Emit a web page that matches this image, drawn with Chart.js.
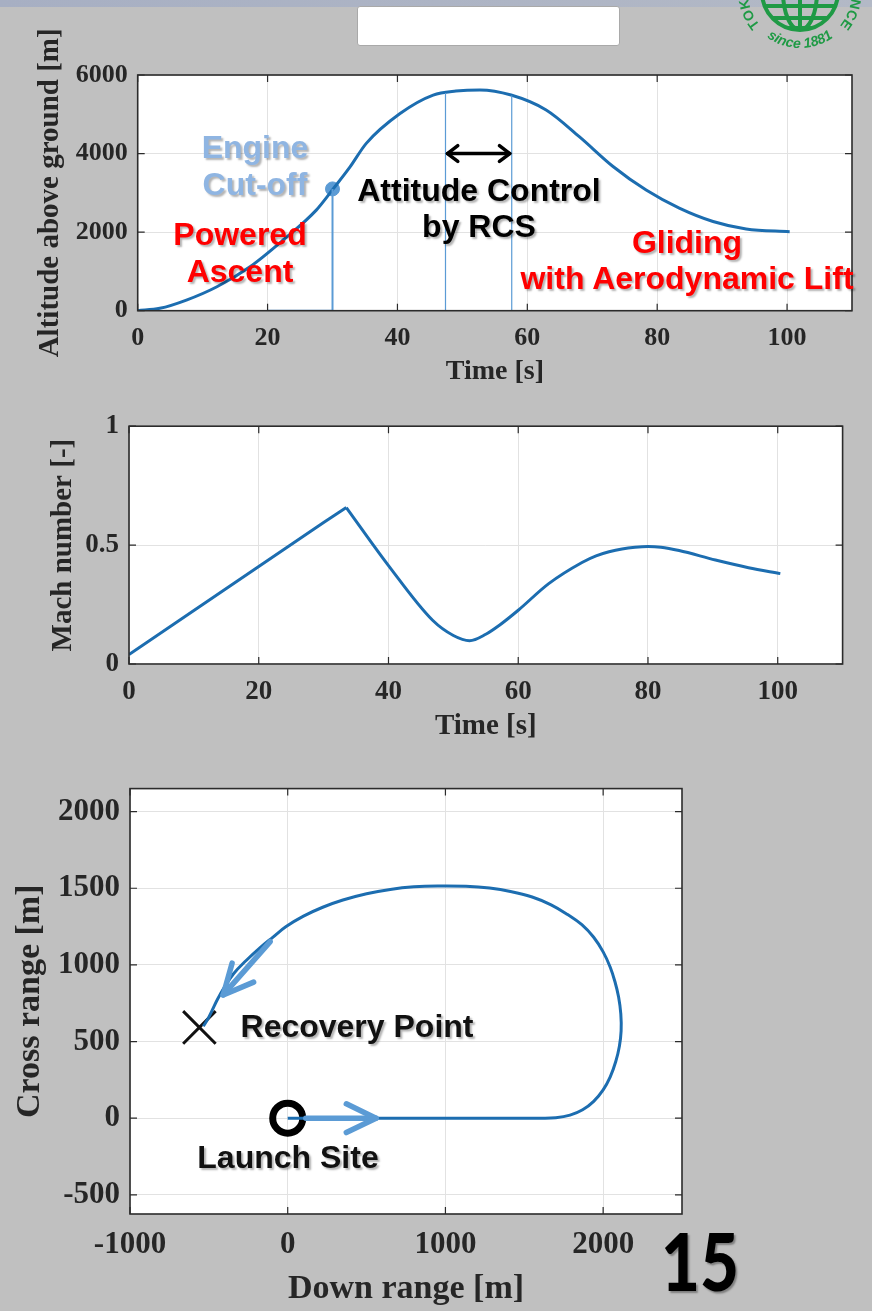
<!DOCTYPE html>
<html><head><meta charset="utf-8">
<script src="https://cdn.jsdelivr.net/npm/chart.js@4/dist/chart.umd.min.js"></script>
<style>
html,body{margin:0;padding:0;background:#c0c0c0;width:872px;height:1311px;overflow:hidden;position:relative;font-family:"Liberation Sans",Arial,sans-serif;}
canvas{position:absolute;left:0;}
#c1{top:0}
#c2{top:400px}
#c3{top:760px}
.note{position:absolute;font-weight:bold;font-size:32px;text-align:center;white-space:nowrap;text-shadow:2px 2px 2px rgba(0,0,0,0.3);transform:translate(-50%,-50%);z-index:5;}
#strip{position:absolute;left:0;top:0;width:872px;height:7px;background:linear-gradient(90deg,#a7afc3,#b3b9c6);z-index:3}
#box{position:absolute;left:357px;top:6px;width:261px;height:38px;background:#fff;border:1px solid #a9a9a9;border-radius:3px;z-index:4}
#logo{position:absolute;left:730px;top:-78px;width:140px;height:140px;z-index:4}
#page{position:absolute;left:661px;top:1220px;font-family:Lato,"Liberation Sans",sans-serif;font-weight:900;font-size:80px;line-height:1;color:#000;transform:scaleX(0.84);transform-origin:left top;text-shadow:2px 2px 2px rgba(0,0,0,0.35);z-index:5}
</style>
</head><body>
<div id="strip"></div>
<div id="box"></div>
<svg id="logo" viewBox="0 0 140 140" xmlns="http://www.w3.org/2000/svg">
  <defs>
    <path id="topArc" d="M 30.2 103.4 A 52 52 0 1 1 109.8 103.4"/>
    <path id="botArc" d="M 14 70 A 56 56 0 0 0 126 70"/>
    <clipPath id="gc"><circle cx="70" cy="70" r="38"/></clipPath>
  </defs>
  <g fill="none" stroke="#1f9a45" stroke-width="4">
    <circle cx="70" cy="70" r="38"/>
    <g clip-path="url(#gc)">
      <line x1="25" y1="84" x2="115" y2="84"/>
      <line x1="25" y1="96" x2="115" y2="96"/>
      <line x1="25" y1="106" x2="115" y2="106"/>
      <ellipse cx="70" cy="70" rx="17" ry="38"/>
      <line x1="70" y1="25" x2="70" y2="115"/>
    </g>
  </g>
  <text font-family="Liberation Sans" font-weight="bold" font-size="14" fill="#1f9a45"><textPath href="#topArc" textLength="236">TOKYO UNIVERSITY OF SCIENCE</textPath></text>
  <text font-family="Liberation Sans" font-weight="bold" font-style="italic" font-size="14" fill="#1f9a45"><textPath href="#botArc" startOffset="50%" text-anchor="middle">since 1881</textPath></text>
</svg>

<canvas id="c1" width="872" height="400"></canvas>
<canvas id="c2" width="872" height="360"></canvas>
<canvas id="c3" width="872" height="551"></canvas>

<div class="note" style="left:255px;top:166px;color:#8fb5e2;line-height:37px">Engine<br>Cut-off</div>
<div class="note" style="left:240px;top:253px;color:#ff0000;line-height:37px">Powered<br>Ascent</div>
<div class="note" style="left:479px;top:208px;color:#000;line-height:36px">Attitude Control<br>by RCS</div>
<div class="note" style="left:687px;top:260px;color:#ff0000;line-height:36px">Gliding<br>with Aerodynamic Lift</div>
<div class="note" style="left:357px;top:1026px;color:#111;line-height:36px">Recovery Point</div>
<div class="note" style="left:288px;top:1157px;color:#111;line-height:36px">Launch Site</div>
<div id="page">15</div>

<script>
// ---------- data ----------
const timeTicks = [0, 20, 40, 60, 80, 100];
const altTicks = [0, 2000, 4000, 6000];
const machTicks = [0, 0.5, 1];
const downTicks = [-1000, 0, 1000, 2000];
const crossTicks = [-500, 0, 500, 1000, 1500, 2000];

const altTime  = [0, 3.4, 7.5, 12.2, 17.3, 22.4, 27.5, 30.1, 32.7, 35.2, 40.4, 45.5, 49, 52.7, 57.5, 62.9, 68, 73.2, 78.3, 83.4, 88.6, 93.7, 100.4];
const altValue = [0, 60, 270, 610, 1120, 1800, 2560, 3100, 3660, 4260, 5020, 5490, 5590, 5620, 5490, 5110, 4430, 3670, 3070, 2610, 2270, 2080, 2010];

const cutoffTime = 30;
const cutoffAlt = 3100;
const cutoffBaseStart = 20;
const rcsStart = 47.4, rcsStartAlt = 5540;
const rcsEnd = 57.6, rcsEndAlt = 5480;
const rcsArrowAlt = 4000;

const machPoweredTime  = [0, 10, 20, 30, 33.5];
const machPoweredValue = [0.04, 0.225, 0.41, 0.595, 0.658];
const machCoastTime  = [33.5, 40, 46.8, 50, 52.5, 55, 57.1, 60, 64.7, 69.9, 72, 74, 76, 78, 80, 82, 84.8, 90.4, 95.5, 100.4];
const machCoastValue = [0.658, 0.414, 0.184, 0.12, 0.098, 0.125, 0.163, 0.226, 0.338, 0.428, 0.455, 0.472, 0.484, 0.491, 0.494, 0.491, 0.477, 0.437, 0.405, 0.38];

const downRange  = [0, 500, 1000, 1400, 1600, 1700, 1790, 1870, 1940, 2000, 2045, 2080, 2103, 2114, 2112, 2098, 2075, 2045, 2000, 1940, 1865, 1775, 1670, 1550, 1420, 1280, 1130, 950, 800, 650, 500, 350, 222, 100, -10, -95, -180, -265, -342, -400, -445, -480, -510, -535];
const crossRange = [0, 0, 0, 0, 0, 3, 20, 55, 110, 185, 270, 370, 470, 570, 680, 790, 890, 985, 1085, 1180, 1262, 1328, 1392, 1443, 1477, 1501, 1513, 1515, 1509, 1492, 1464, 1423, 1376, 1318, 1250, 1180, 1108, 1027, 944, 857, 776, 702, 640, 600];
const launchSite = [0, 0];
const recoveryPoint = [-560, 592];
const arrowOut  = {from: [115, 0], to: [560, 0]};
const arrowBack = {from: [-111, 1152], to: [-409, 804]};

// ---------- helpers ----------
const SERIF = '"Liberation Serif", "Times New Roman", serif';
const TXT = '#262626';
const GRID = '#e2e2e2';
const LINE = '#1c6db0';
const LIGHT = '#5b9bd5';

function pts(xs, ys){ return xs.map((x,i)=>({x:x, y:ys[i]})); }

const framePlugin = {
  id: 'frame',
  beforeDraw(chart){
    const {ctx, chartArea:a} = chart;
    ctx.save(); ctx.fillStyle = '#fff'; ctx.fillRect(a.left, a.top, a.width, a.height); ctx.restore();
  },
  afterDraw(chart){
    const {ctx, chartArea:a} = chart;
    const xs = chart.scales.x, ys = chart.scales.y;
    ctx.save();
    ctx.strokeStyle = '#2b2b2b'; ctx.lineWidth = 1.6;
    ctx.strokeRect(a.left, a.top, a.width, a.height);
    ctx.lineWidth = 1.2;
    const L = 7;
    ctx.beginPath();
    xs.ticks.forEach(t=>{ const p = xs.getPixelForValue(t.value);
      ctx.moveTo(p, a.bottom); ctx.lineTo(p, a.bottom - L);
      ctx.moveTo(p, a.top); ctx.lineTo(p, a.top + L); });
    ys.ticks.forEach(t=>{ const p = ys.getPixelForValue(t.value);
      ctx.moveTo(a.left, p); ctx.lineTo(a.left + L, p);
      ctx.moveTo(a.right, p); ctx.lineTo(a.right - L, p); });
    ctx.stroke();
    ctx.restore();
  }
};

const arrowPlugin = {
  id: 'arrows',
  afterDatasetsDraw(chart, args, opts){
    const items = (opts && opts.items) || [];
    if (!items.length) return;
    const {ctx} = chart; const xs = chart.scales.x, ys = chart.scales.y;
    ctx.save();
    ctx.strokeStyle = opts.color; ctx.lineWidth = opts.width; ctx.lineCap = 'round'; ctx.lineJoin = 'round';
    for (const it of items){
      const x1 = xs.getPixelForValue(it.from[0]), y1 = ys.getPixelForValue(it.from[1]);
      const x2 = xs.getPixelForValue(it.to[0]),   y2 = ys.getPixelForValue(it.to[1]);
      ctx.beginPath(); ctx.moveTo(x1, y1); ctx.lineTo(x2, y2); ctx.stroke();
      const heads = it.both ? [[x2,y2,x1,y1],[x1,y1,x2,y2]] : [[x2,y2,x1,y1]];
      for (const [tx,ty,sx,sy] of heads){
        const ang = Math.atan2(ty - sy, tx - sx);
        ctx.beginPath();
        ctx.moveTo(tx - opts.head*Math.cos(ang - opts.spread), ty - opts.head*Math.sin(ang - opts.spread));
        ctx.lineTo(tx, ty);
        ctx.lineTo(tx - opts.head*Math.cos(ang + opts.spread), ty - opts.head*Math.sin(ang + opts.spread));
        ctx.stroke();
      }
    }
    ctx.restore();
  }
};

function axis(cfg){
  return {
    type: 'linear',
    min: cfg.min, max: cfg.max,
    afterBuildTicks: (s)=>{ s.ticks = cfg.ticks.map(v=>({value:v})); },
    afterFit: (s)=>{ if (cfg.width != null) s.width = cfg.width; if (cfg.height != null) s.height = cfg.height; },
    grid: {color: GRID, lineWidth: 1, drawTicks: false},
    border: {display: false},
    ticks: {
      font: {family: SERIF, size: cfg.tickSize, weight: 'bold'},
      color: TXT, padding: cfg.tickPad, maxRotation: 0, autoSkip: false,
      callback: (v)=>String(v)
    },
    title: {
      display: true, text: cfg.title, color: TXT,
      font: {family: SERIF, size: cfg.titleSize, weight: 'bold'},
      padding: cfg.titlePad
    }
  };
}

Chart.defaults.animation = false;
Chart.defaults.responsive = false;
Chart.defaults.devicePixelRatio = 1;

// ---------- chart 1: altitude ----------
new Chart(document.getElementById('c1'), {
  type: 'scatter',
  data: { datasets: [
    {data: [{x:cutoffBaseStart,y:0},{x:cutoffTime,y:0},{x:cutoffTime,y:cutoffAlt}], showLine:true, borderColor:LIGHT, borderWidth:2, pointRadius:0, tension:0},
    {data: [{x:rcsStart,y:0},{x:rcsStart,y:rcsStartAlt}], showLine:true, borderColor:LIGHT, borderWidth:1.2, pointRadius:0},
    {data: [{x:rcsEnd,y:0},{x:rcsEnd,y:rcsEndAlt}], showLine:true, borderColor:LIGHT, borderWidth:1.2, pointRadius:0},
    {data: pts(altTime, altValue), showLine:true, borderColor:LINE, borderWidth:3, pointRadius:0, cubicInterpolationMode:'monotone'},
    {data: [{x:cutoffTime,y:cutoffAlt}], pointRadius:7, pointBackgroundColor:LIGHT, pointBorderColor:LIGHT, showLine:false}
  ]},
  options: {
    layout: {padding: {left:0, right:20, top:75, bottom:0}},
    plugins: {legend:{display:false}, tooltip:{enabled:false},
      arrows: {items:[{from:[rcsStart+0.3, rcsArrowAlt], to:[rcsEnd-0.3, rcsArrowAlt], both:true}], color:'#000', width:3.5, head:13, spread:0.65}},
    scales: {
      x: axis({min:0, max:110, ticks:timeTicks, height:89.3, tickSize:26, tickPad:11.7, title:'Time [s]', titleSize:28, titlePad:{top:0,bottom:11}}),
      y: axis({min:0, max:6000, ticks:altTicks, width:137.7, tickSize:26, tickPad:10, title:'Altitude above ground [m]', titleSize:29, titlePad:{top:33.6,bottom:0}})
    }
  },
  plugins: [framePlugin, arrowPlugin]
});

// ---------- chart 2: mach ----------
new Chart(document.getElementById('c2'), {
  type: 'scatter',
  data: { datasets: [
    {data: pts(machPoweredTime, machPoweredValue), showLine:true, borderColor:LINE, borderWidth:3, pointRadius:0, tension:0},
    {data: pts(machCoastTime, machCoastValue), showLine:true, borderColor:LINE, borderWidth:3, pointRadius:0, cubicInterpolationMode:'monotone'}
  ]},
  options: {
    layout: {padding: {left:0, right:29.4, top:25, bottom:0}},
    plugins: {legend:{display:false}, tooltip:{enabled:false}},
    scales: {
      x: axis({min:0, max:110, ticks:timeTicks, height:96, tickSize:27, tickPad:11.5, title:'Time [s]', titleSize:29, titlePad:{top:0,bottom:15.9}}),
      y: axis({min:0, max:1, ticks:machTicks, width:129, tickSize:27, tickPad:10, title:'Mach number [-]', titleSize:29, titlePad:{top:46.6,bottom:0}})
    }
  },
  plugins: [framePlugin]
});

// ---------- chart 3: ground track ----------
new Chart(document.getElementById('c3'), {
  type: 'scatter',
  data: { datasets: [
    {data: pts(downRange, crossRange), showLine:true, borderColor:LINE, borderWidth:3, pointRadius:0, tension:0.4},
    {data: [{x:launchSite[0], y:launchSite[1]}], pointRadius:15, pointBorderWidth:7, pointBorderColor:'#000', pointBackgroundColor:'rgba(0,0,0,0)'},
    {data: [{x:recoveryPoint[0], y:recoveryPoint[1]}], pointStyle:'crossRot', pointRadius:23, pointBorderWidth:3, pointBorderColor:'#111'}
  ]},
  options: {
    layout: {padding: {left:0, right:190, top:16, bottom:0}},
    plugins: {legend:{display:false}, tooltip:{enabled:false},
      arrows: {items:[arrowOut, arrowBack], color:LIGHT, width:5.5, head:33, spread:0.45}},
    scales: {
      x: axis({min:-1000, max:2500, ticks:downTicks, height:97, tickSize:31, tickPad:12, title:'Down range [m]', titleSize:34, titlePad:{top:0,bottom:1.6}}),
      y: axis({min:-625, max:2150, ticks:crossTicks, width:130, tickSize:31, tickPad:10, title:'Cross range [m]', titleSize:34, titlePad:{top:10,bottom:0}})
    }
  },
  plugins: [framePlugin, arrowPlugin]
});
</script>
</body></html>
